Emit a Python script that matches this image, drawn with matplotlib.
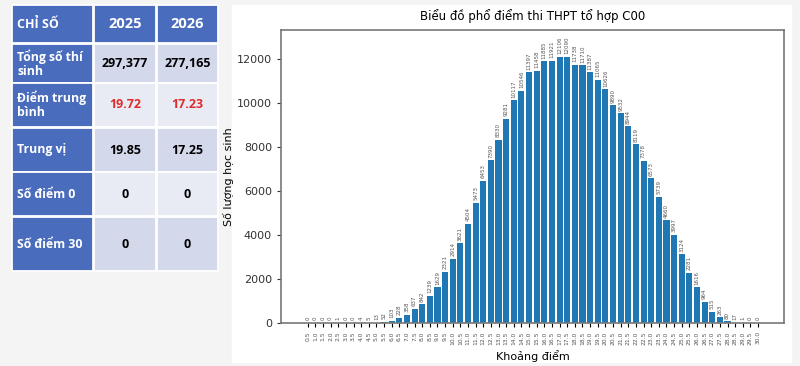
import matplotlib.pyplot as plt
from matplotlib.patches import Rectangle

# score buckets and number of candidates
scores = [0.5, 1.0, 1.5, 2.0, 2.5, 3.0, 3.5, 4.0, 4.5, 5.0,
          5.5, 6.0, 6.5, 7.0, 7.5, 8.0, 8.5, 9.0, 9.5, 10.0,
          10.5, 11.0, 11.5, 12.0, 12.5, 13.0, 13.5, 14.0, 14.5, 15.0,
          15.5, 16.0, 16.5, 17.0, 17.5, 18.0, 18.5, 19.0, 19.5, 20.0,
          20.5, 21.0, 21.5, 22.0, 22.5, 23.0, 23.5, 24.0, 24.5, 25.0,
          25.5, 26.0, 26.5, 27.0, 27.5, 28.0, 28.5, 29.0, 29.5, 30.0]
counts = [0, 0, 0, 0, 1, 0, 0, 4, 5, 13,
          52, 103, 228, 358, 637, 842, 1239, 1629, 2321, 2914,
          3621, 4504, 5473, 6453, 7390, 8330, 9281, 10117, 10546, 11397,
          11458, 11885, 11921, 12106, 12090, 11738, 11710, 11387, 11065, 10626,
          9890, 9532, 8944, 8119, 7378, 6573, 5739, 4660, 3997, 3124,
          2281, 1616, 964, 515, 263, 80, 17, 1, 0, 0]

# summary table
col_headers = ["CHỈ SỐ", "2025", "2026"]
row_names = ["Tổng số thí\nsinh", "Điểm trung\nbình", "Trung vị", "Số điểm 0", "Số điểm 30"]
vals_2025 = ["297,377", "19.72", "19.85", "0", "0"]
vals_2026 = ["277,165", "17.23", "17.25", "0", "0"]

W, H = 800, 366
fig = plt.figure(figsize=(8, 3.66), dpi=100, facecolor="#f4f4f4")

# ---- table on the left (pixel coordinates) ----
tab = fig.add_axes([0, 0, 1, 1])
tab.set_xlim(0, W)
tab.set_ylim(H, 0)
tab.axis("off")

blue = "#4a6cbd"
cols_x = [(12, 93), (94, 156), (157, 218)]
rows_y = [(5, 43), (44, 83), (83, 127), (128, 172), (172, 216), (217, 271)]
cell_bg = ["#d3d8eb", "#e9ebf4", "#d3d8eb", "#e9ebf4", "#d3d8eb"]


def cell(x0, x1, y0, y1, fc):
    tab.add_patch(Rectangle((x0, y0), x1 - x0, y1 - y0, facecolor=fc,
                            edgecolor="white", linewidth=1.3))


for j, (x0, x1) in enumerate(cols_x):
    y0, y1 = rows_y[0]
    cell(x0, x1, y0, y1, blue)
    tx = x0 + 5 if j == 0 else (x0 + x1) / 2
    tab.text(tx, (y0 + y1) / 2, col_headers[j], color="white",
             fontsize=10.5 if j else 9, fontweight="bold", family="Open Sans",
             ha="left" if j == 0 else "center", va="center")

for i in range(5):
    y0, y1 = rows_y[i + 1]
    x0, x1 = cols_x[0]
    cell(x0, x1, y0, y1, blue)
    tab.text(x0 + 5, (y0 + y1) / 2, row_names[i], color="white", fontsize=8.8,
             fontweight="bold", family="Open Sans", ha="left", va="center",
             linespacing=1.1)
    for j, vals in ((1, vals_2025), (2, vals_2026)):
        cx0, cx1 = cols_x[j]
        cell(cx0, cx1, y0, y1, cell_bg[i])
        tab.text((cx0 + cx1) / 2, (y0 + y1) / 2, vals[i],
                 color="#e02b2b" if i == 1 else "black", fontsize=9,
                 fontweight="bold", family="Open Sans", ha="center", va="center")

# white panel behind the chart
tab.add_patch(Rectangle((232, 5), 559, 357, color="white"))

# ---- bar chart ----
ax = fig.add_axes([281 / W, 1 - 323 / H, (784 - 281) / W, (323 - 30) / H])
pos = list(range(len(scores)))
bars = ax.bar(pos, counts, width=0.8, color="#1f77b4")
for p, c in zip(pos, counts):
    ax.text(p, c + 120, str(c), rotation=90, ha="center", va="bottom",
            fontsize=4, color="#555555")

ax.set_xticks(pos)
ax.set_xticklabels([f"{s:.1f}" for s in scores], rotation=90, fontsize=4.3,
                   color="#555555")
ax.set_xlim(-3.5, 62.4)
ax.set_ylim(0, max(counts) * 1.1)
ax.set_yticks(range(0, 12001, 2000))
ax.tick_params(axis="y", labelsize=8, colors="#333333", length=3)
ax.tick_params(axis="x", length=3, width=0.8, pad=3)
for s in ax.spines.values():
    s.set_color("#777777")
    s.set_linewidth(1.2)

ax.set_title("Biểu đồ phổ điểm thi THPT tổ hợp C00", fontsize=8.5, pad=7)
ax.set_xlabel("Khoảng điểm", fontsize=8, labelpad=4)
ax.set_ylabel("Số lượng học sinh", fontsize=8, labelpad=2)

fig.savefig("out.png", dpi=100, facecolor=fig.get_facecolor())
